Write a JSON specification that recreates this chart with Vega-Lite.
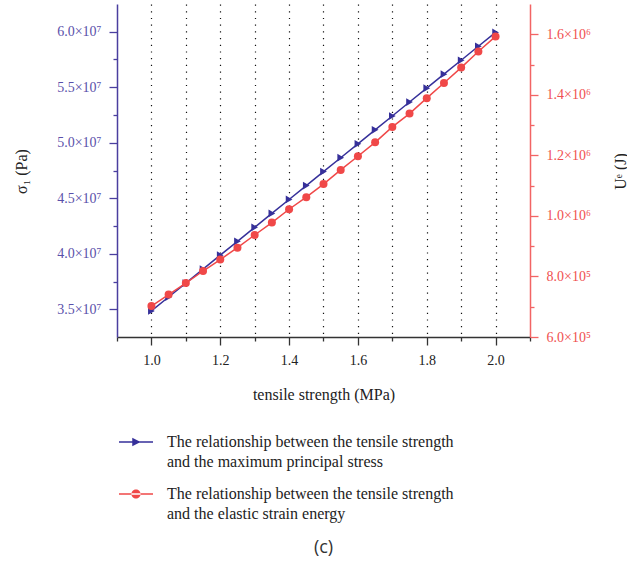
{
  "$schema": "https://vega.github.io/schema/vega-lite/v6.json",
  "width": 413,
  "height": 333,
  "autosize": "none",
  "padding": {"left": 117, "top": 4, "right": 97, "bottom": 224},
  "background": "white",
  "config": {
    "view": {"stroke": null},
    "font": "Liberation Serif",
    "axis": {"labelFont": "Liberation Serif", "titleFont": "Liberation Serif", "labelFontSize": 14, "titleFontSize": 16, "titleFontWeight": "normal", "labelFlush": false, "labelOverlap": false, "grid": false},
    "legend": {"labelFont": "Liberation Serif", "labelFontSize": 16, "labelColor": "#222", "labelLimit": 0, "symbolSize": 1156, "symbolStrokeWidth": 0, "rowPadding": 7, "labelOffset": 14, "labelBaseline": "middle"}
  },
  "title": {"text": "(c)", "orient": "bottom", "anchor": "middle", "font": "Open Sans", "fontSize": 18, "fontWeight": "normal", "color": "#333", "offset": 17},
  "data": {"values": [
    {"t": 1.00, "sigma": 34850000, "U": 702000},
    {"t": 1.05, "sigma": 36100000, "U": 740000},
    {"t": 1.10, "sigma": 37360000, "U": 778000},
    {"t": 1.15, "sigma": 38610000, "U": 818000},
    {"t": 1.20, "sigma": 39870000, "U": 856000},
    {"t": 1.25, "sigma": 41120000, "U": 895000},
    {"t": 1.30, "sigma": 42380000, "U": 937000},
    {"t": 1.35, "sigma": 43630000, "U": 978000},
    {"t": 1.40, "sigma": 44890000, "U": 1022000},
    {"t": 1.45, "sigma": 46140000, "U": 1062000},
    {"t": 1.50, "sigma": 47400000, "U": 1105000},
    {"t": 1.55, "sigma": 48650000, "U": 1152000},
    {"t": 1.60, "sigma": 49900000, "U": 1197000},
    {"t": 1.65, "sigma": 51160000, "U": 1243000},
    {"t": 1.70, "sigma": 52410000, "U": 1294000},
    {"t": 1.75, "sigma": 53670000, "U": 1338000},
    {"t": 1.80, "sigma": 54920000, "U": 1389000},
    {"t": 1.85, "sigma": 56180000, "U": 1439000},
    {"t": 1.90, "sigma": 57430000, "U": 1490000},
    {"t": 1.95, "sigma": 58690000, "U": 1543000},
    {"t": 2.00, "sigma": 59940000, "U": 1593000}
  ]},
  "encoding": {
    "x": {
      "field": "t", "type": "quantitative",
      "scale": {"domain": [0.9, 2.1], "nice": false, "zero": false},
      "axis": {
        "values": [0.9, 1.0, 1.1, 1.2, 1.3, 1.4, 1.5, 1.6, 1.7, 1.8, 1.9, 2.0, 2.1],
        "labelExpr": "round(datum.value*10) % 2 == 0 ? format(datum.value, '.1f') : ''",
        "tickSize": {"condition": {"test": "round(datum.value*10) % 2 == 0", "value": 8}, "value": 4},
        "grid": true,
        "gridOpacity": {"condition": {"test": "datum.value < 0.95 || datum.value > 2.05", "value": 0}, "value": 1},
        "gridColor": "#111",
        "gridDash": [1.2, 5.5],
        "gridWidth": 1.2,
        "domainColor": "#333",
        "domainWidth": 1.5,
        "tickColor": "#333",
        "tickWidth": 1.3,
        "labelColor": "#222",
        "labelPadding": 8,
        "title": "tensile strength (MPa)",
        "titleColor": "#222",
        "titleY": 49,
        "titleBaseline": "top"
      }
    }
  },
  "layer": [
    {
      "encoding": {
        "y": {
          "field": "sigma", "type": "quantitative",
          "scale": {"domain": [32500000, 62500000], "nice": false, "zero": false},
          "axis": {
            "orient": "left",
            "values": [35000000, 37500000, 40000000, 42500000, 45000000, 47500000, 50000000, 52500000, 55000000, 57500000, 60000000],
            "labelExpr": "round(datum.value/2500000) % 2 == 0 ? format(datum.value/10000000, '.1f') + '×10⁷' : ''",
            "tickSize": {"condition": {"test": "round(datum.value/2500000) % 2 == 0", "value": 8}, "value": 4},
            "domainColor": "#4a3f9f",
            "domainWidth": 1.5,
            "tickColor": "#4a3f9f",
            "tickWidth": 1.3,
            "labelColor": "#5a50aa",
            "labelPadding": 8,
            "title": "σ₁ (Pa)",
            "titleColor": "#222",
            "titleAngle": -90,
            "titleBaseline": "middle",
            "titleX": -96,
            "titleY": 167
          }
        },
        "color": {
          "datum": "The relationship between the tensile strength and the maximum principal stress",
          "type": "nominal",
          "scale": {"domain": ["The relationship between the tensile strength and the maximum principal stress", "The relationship between the tensile strength and the elastic strain energy"], "range": ["#36309a", "#f04848"]},
          "legend": {
            "title": null,
            "orient": "none",
            "legendX": 2,
            "legendY": 421,
            "direction": "vertical",
            "labelExpr": "[substring(datum.label, 0, 45), substring(datum.label, 46)]",
            "encode": {
              "symbols": {"update": {
                "shape": {"signal": "indexof(datum.value, 'maximum') >= 0 ? 'M-1,-0.045L1,-0.045L1,0.045L-1,0.045Z M-0.22,-0.25L0.27,0L-0.22,0.25Z' : 'M-1,-0.045L1,-0.045L1,0.045L-1,0.045Z M-0.27,0A0.27,0.27 0 1,0 0.27,0A0.27,0.27 0 1,0 -0.27,0Z'"},
                "fill": {"scale": "color", "field": "value"},
                "strokeWidth": {"value": 0}
              }},
              "labels": {"update": {"lineHeight": {"value": 19.5}}}
            }
          }
        }
      },
      "layer": [
        {"mark": {"type": "line", "strokeWidth": 1.5}},
        {"mark": {"type": "point", "shape": "triangle-right", "filled": true, "size": 60, "opacity": 1}}
      ]
    },
    {
      "encoding": {
        "y": {
          "field": "U", "type": "quantitative",
          "scale": {"domain": [600000, 1700000], "nice": false, "zero": false},
          "axis": {
            "orient": "right",
            "values": [600000, 700000, 800000, 900000, 1000000, 1100000, 1200000, 1300000, 1400000, 1500000, 1600000],
            "labelExpr": "round(datum.value/100000) % 2 == 1 ? '' : (datum.value < 999999 ? format(datum.value/100000, '.1f') + '×10⁵' : format(datum.value/1000000, '.1f') + '×10⁶')",
            "tickSize": {"condition": {"test": "round(datum.value/100000) % 2 == 0", "value": 8}, "value": 4},
            "domainColor": "#f26464",
            "domainWidth": 1.5,
            "tickColor": "#f26464",
            "tickWidth": 1.3,
            "labelColor": "#f05050",
            "labelPadding": 8,
            "title": "Uᵉ (J)",
            "titleColor": "#222",
            "titleAngle": -90,
            "titleBaseline": "middle",
            "titleX": 90,
            "titleY": 167
          }
        },
        "color": {
          "datum": "The relationship between the tensile strength and the elastic strain energy",
          "type": "nominal"
        }
      },
      "layer": [
        {"mark": {"type": "line", "strokeWidth": 1.5}},
        {"mark": {"type": "point", "shape": "circle", "filled": true, "size": 64, "opacity": 1}}
      ]
    }
  ],
  "resolve": {"scale": {"y": "independent"}}
}
